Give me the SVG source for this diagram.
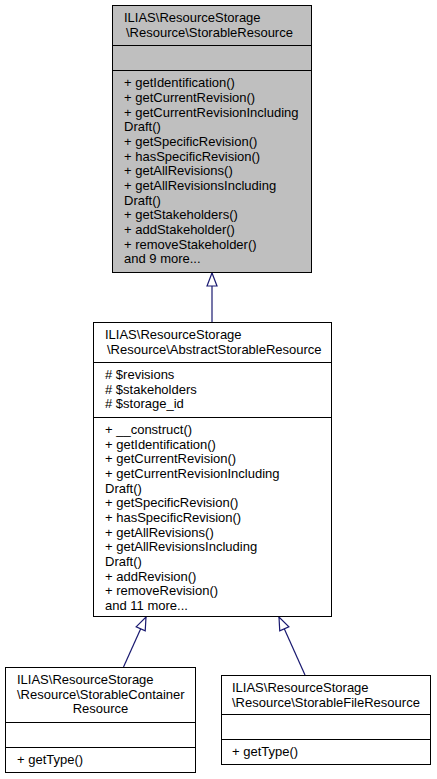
<svg xmlns="http://www.w3.org/2000/svg" width="437" height="779" viewBox="0 0 437 779">
<style>
text { font-family: "Liberation Sans", Arial, Helvetica, sans-serif; font-size: 13px; fill: #000; }
.box { fill: #fff; stroke: #000; stroke-width: 1; }
.grey { fill: #bfbfbf; }
.sep { stroke: #000; stroke-width: 1; }
.edge { fill: none; stroke: #191970; stroke-width: 1.2; }
</style>
<defs>
<marker id="inh" markerUnits="userSpaceOnUse" markerWidth="16" markerHeight="14" refX="14" refY="6" orient="auto">
<path d="M1,1 L14,6 L1,11 Z" fill="#fff" stroke="#191970" stroke-width="1.2"/>
</marker>
</defs>
<g id="connectors">
<path class="edge" d="M212,322 L212,273" marker-end="url(#inh)"/>
<path class="edge" d="M123.5,667 L146,617" marker-end="url(#inh)"/>
<path class="edge" d="M305,675 L279,617" marker-end="url(#inh)"/>
</g>
<g id="node-StorableResource">
<rect class="box grey" x="112.5" y="5.5" width="199" height="267"/>
<line class="sep" x1="112.5" y1="45.5" x2="311.5" y2="45.5"/>
<line class="sep" x1="112.5" y1="70.5" x2="311.5" y2="70.5"/>
<text x="124" y="21.5">ILIAS\ResourceStorage</text>
<text x="126" y="36.5">\Resource\StorableResource</text>
<text x="124" y="87.3">+ getIdentification()</text>
<text x="124" y="102">+ getCurrentRevision()</text>
<text x="124" y="116.6">+ getCurrentRevisionIncluding</text>
<text x="124" y="131.3">Draft()</text>
<text x="124" y="146">+ getSpecificRevision()</text>
<text x="124" y="160.6">+ hasSpecificRevision()</text>
<text x="124" y="175.3">+ getAllRevisions()</text>
<text x="124" y="190">+ getAllRevisionsIncluding</text>
<text x="124" y="204.6">Draft()</text>
<text x="124" y="219.3">+ getStakeholders()</text>
<text x="124" y="234">+ addStakeholder()</text>
<text x="124" y="248.6">+ removeStakeholder()</text>
<text x="124" y="263.3">and 9 more...</text>
</g>
<g id="node-AbstractStorableResource">
<rect class="box" x="93.5" y="322.5" width="238" height="294"/>
<line class="sep" x1="93.5" y1="362.5" x2="331.5" y2="362.5"/>
<line class="sep" x1="93.5" y1="417.5" x2="331.5" y2="417.5"/>
<text x="105" y="338.8">ILIAS\ResourceStorage</text>
<text x="107" y="353.5">\Resource\AbstractStorableResource</text>
<text x="105" y="378.8"># $revisions</text>
<text x="105" y="393.5"># $stakeholders</text>
<text x="105" y="408.1"># $storage_id</text>
<text x="105" y="433.8">+ __construct()</text>
<text x="105" y="448.5">+ getIdentification()</text>
<text x="105" y="463.1">+ getCurrentRevision()</text>
<text x="105" y="477.8">+ getCurrentRevisionIncluding</text>
<text x="105" y="492.5">Draft()</text>
<text x="105" y="507.1">+ getSpecificRevision()</text>
<text x="105" y="521.8">+ hasSpecificRevision()</text>
<text x="105" y="536.5">+ getAllRevisions()</text>
<text x="105" y="551.1">+ getAllRevisionsIncluding</text>
<text x="105" y="565.8">Draft()</text>
<text x="105" y="580.5">+ addRevision()</text>
<text x="105" y="595.1">+ removeRevision()</text>
<text x="105" y="609.8">and 11 more...</text>
</g>
<g id="node-StorableContainerResource">
<rect class="box" x="5.5" y="667.5" width="190" height="105"/>
<line class="sep" x1="5.5" y1="722.5" x2="195.5" y2="722.5"/>
<line class="sep" x1="5.5" y1="747.5" x2="195.5" y2="747.5"/>
<text x="17" y="683.8">ILIAS\ResourceStorage</text>
<text x="17" y="698.5">\Resource\StorableContainer</text>
<text x="100.5" y="713.1" text-anchor="middle">Resource</text>
<text x="17" y="763.8">+ getType()</text>
</g>
<g id="node-StorableFileResource">
<rect class="box" x="221.5" y="675.5" width="209" height="89"/>
<line class="sep" x1="221.5" y1="714.5" x2="430.5" y2="714.5"/>
<line class="sep" x1="221.5" y1="739.5" x2="430.5" y2="739.5"/>
<text x="232" y="691.8">ILIAS\ResourceStorage</text>
<text x="232" y="706.5">\Resource\StorableFileResource</text>
<text x="232" y="755.8">+ getType()</text>
</g>
</svg>
